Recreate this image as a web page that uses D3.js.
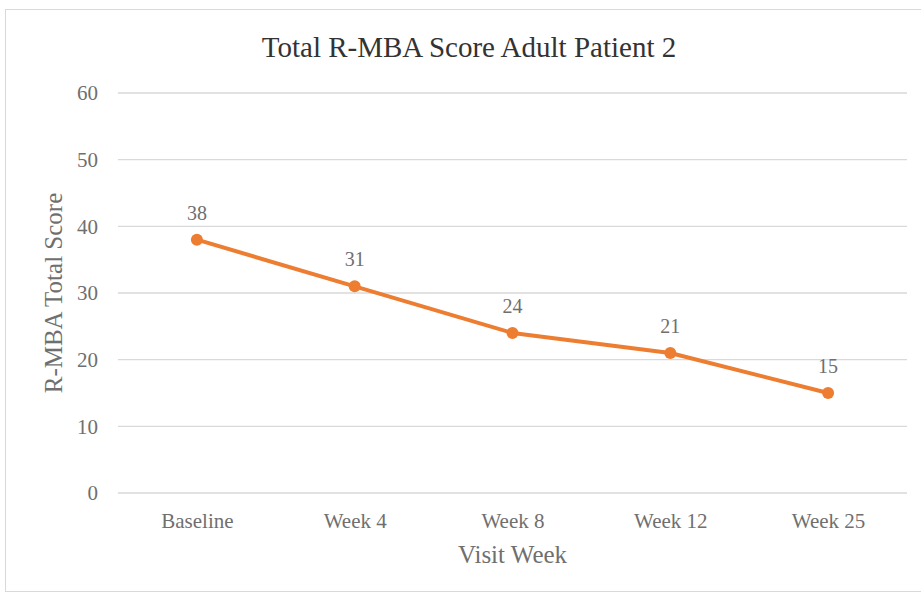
<!DOCTYPE html>
<html>
<head>
<meta charset="utf-8">
<script src="https://cdn.jsdelivr.net/npm/d3@7"></script>
<style>
  body { margin: 0; background: #fff; }
  text { font-family: "Liberation Serif", "Times New Roman", serif; }
</style>
</head>
<body>
<div id="chart"></div>
<script>
// chart data
var weeks = ["Baseline", "Week 4", "Week 8", "Week 12", "Week 25"];
var scores = [38, 31, 24, 21, 15];
var yTicks = [0, 10, 20, 30, 40, 50, 60];

var width = 921, height = 595;
var margin = { top: 93, right: 14, bottom: 102, left: 118 };

var svg = d3.select("#chart").append("svg")
    .attr("width", width)
    .attr("height", height);

// outer frame
svg.append("rect")
    .attr("x", 5.5).attr("y", 9.5)
    .attr("width", width + 10).attr("height", height - 13)
    .attr("fill", "#fff")
    .attr("stroke", "#d9d9d9");

var x = d3.scalePoint()
    .domain(weeks)
    .range([margin.left, width - margin.right])
    .padding(0.5);

var y = d3.scaleLinear()
    .domain([0, 60])
    .range([height - margin.bottom, margin.top]);

// gridlines
svg.append("g")
    .selectAll("line")
    .data(yTicks)
    .enter().append("line")
    .attr("x1", margin.left)
    .attr("x2", width - margin.right)
    .attr("y1", d => y(d))
    .attr("y2", d => y(d))
    .attr("stroke", "#d9d9d9")
    .attr("stroke-width", 1.3);

// y axis labels
var yAxis = svg.append("g")
    .attr("transform", "translate(" + (margin.left - 20) + ",0)")
    .call(d3.axisLeft(y).tickValues(yTicks).tickSize(0).tickPadding(0));
yAxis.select(".domain").remove();
yAxis.selectAll("text")
    .attr("fill", "#6f6f6f")
    .style("font-size", "21px")
    .style("font-family", "Liberation Serif, serif");

// x axis labels
var xAxis = svg.append("g")
    .attr("transform", "translate(0," + (height - margin.bottom) + ")")
    .call(d3.axisBottom(x).tickSize(0).tickPadding(20));
xAxis.select(".domain").remove();
xAxis.selectAll("text")
    .attr("fill", "#6f6f6f")
    .style("font-size", "21px")
    .style("font-family", "Liberation Serif, serif");

// line
var line = d3.line()
    .x((d, i) => x(weeks[i]))
    .y(d => y(d));

svg.append("path")
    .datum(scores)
    .attr("fill", "none")
    .attr("stroke", "#ed7d31")
    .attr("stroke-width", 4)
    .attr("stroke-linejoin", "round")
    .attr("d", line);

svg.append("g")
    .selectAll("circle")
    .data(scores)
    .enter().append("circle")
    .attr("cx", (d, i) => x(weeks[i]))
    .attr("cy", d => y(d))
    .attr("r", 6)
    .attr("fill", "#ed7d31");

// data labels
svg.append("g")
    .selectAll("text")
    .data(scores)
    .enter().append("text")
    .attr("x", (d, i) => x(weeks[i]))
    .attr("y", d => y(d) - 20)
    .attr("text-anchor", "middle")
    .attr("fill", "#6f6f6f")
    .style("font-size", "20px")
    .text(d => d);

// title
svg.append("text")
    .attr("x", 469)
    .attr("y", 57)
    .attr("text-anchor", "middle")
    .attr("fill", "#333")
    .style("font-size", "29px")
    .text("Total R-MBA Score Adult Patient 2");

// axis titles
svg.append("text")
    .attr("x", x("Week 8"))
    .attr("y", 563)
    .attr("text-anchor", "middle")
    .attr("fill", "#6f6f6f")
    .style("font-size", "25px")
    .text("Visit Week");

svg.append("text")
    .attr("transform", "translate(62," + y(30) + ") rotate(-90)")
    .attr("text-anchor", "middle")
    .attr("fill", "#6f6f6f")
    .style("font-size", "25px")
    .text("R-MBA Total Score");
</script>
</body>
</html>
